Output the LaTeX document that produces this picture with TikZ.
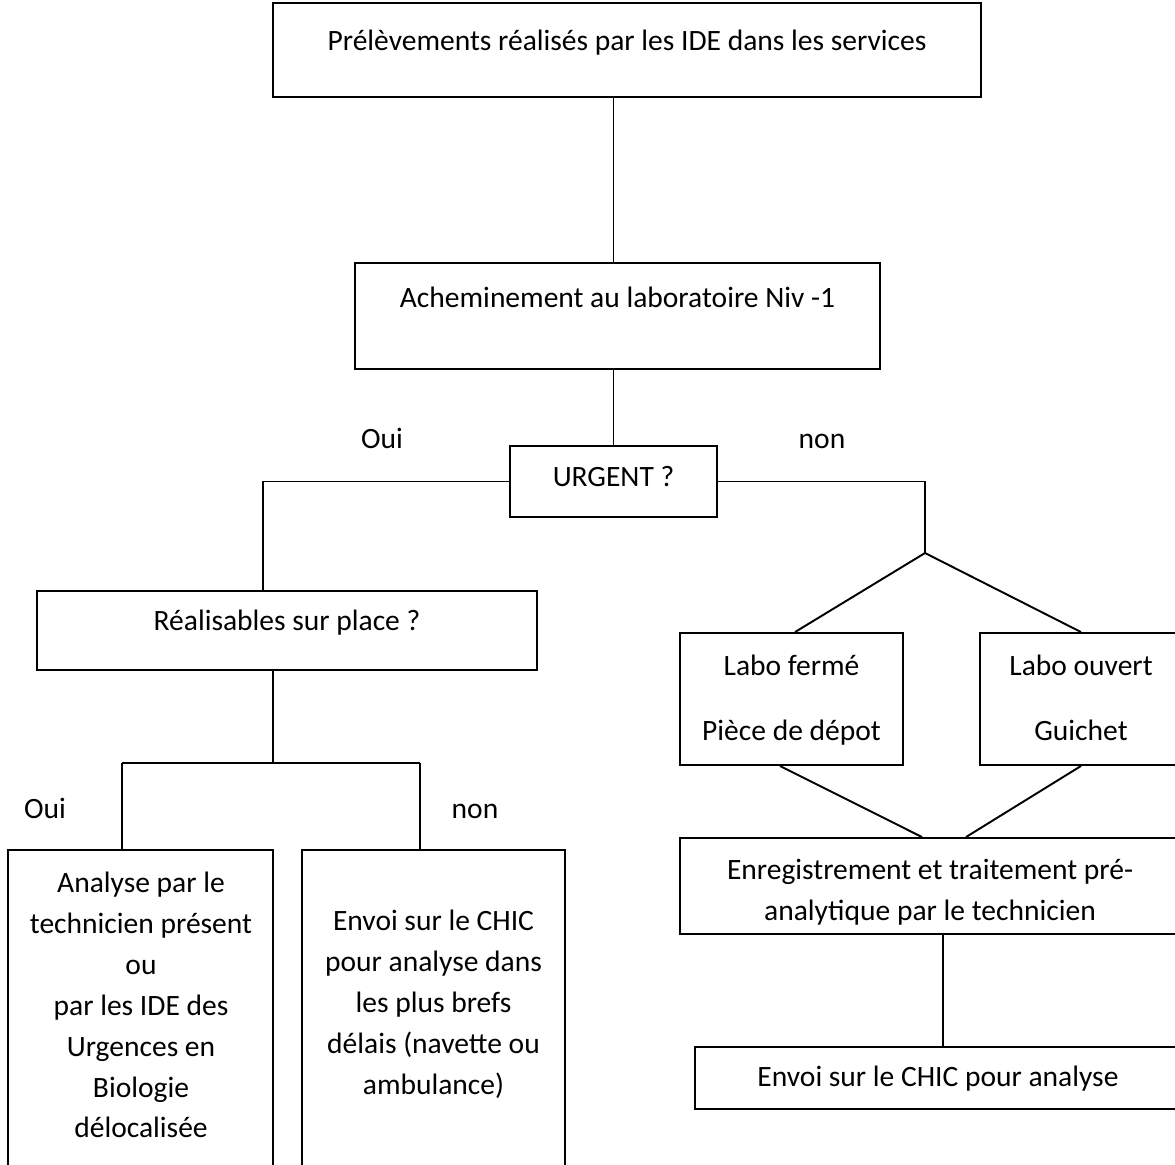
\documentclass[tikz,border=0pt]{standalone}
\usepackage{fontspec}
\setmainfont{Carlito}
\usepackage{tikz}
\usetikzlibrary{positioning, calc}

\begin{document}
\begin{tikzpicture}[x=0.02cm, y=-0.02cm, line width=1.1pt,
    box/.style={draw, rectangle, inner sep=0pt},
    txt/.style={font=\fontsize{16.8}{23.3}\selectfont, align=center, inner sep=0pt},
    oneline/.style={txt, text height=0.7em, text depth=0.2em}]
    % page frame, the picture is cut at right and bottom
    \useasboundingbox (0,0) rectangle (1175,1164);
    \clip (0,0) rectangle (1175,1164);

    % Boxes
    \node[box, minimum width=14.16cm, minimum height=1.88cm] (prelev) at (627,50) {};
    \node[box, minimum width=10.5cm, minimum height=2.12cm] (achem) at (617.5,316) {};
    \node[box, minimum width=4.14cm, minimum height=1.42cm] (urgent) at (613.5,481.5) {};
    \node[box, minimum width=10cm, minimum height=1.58cm] (realis) at (287,630.5) {};
    \node[box, minimum width=5.3cm, minimum height=7cm] (analyse) at (140.5,1025) {};
    \node[box, minimum width=5.26cm, minimum height=7cm] (navette) at (433.5,1025) {};
    \node[box, minimum width=4.46cm, minimum height=2.64cm] (ferme) at (791.5,699) {};
    \node[box, minimum width=4.04cm, minimum height=2.64cm] (ouvert) at (1081,699) {};
    \node[box, minimum width=10cm, minimum height=1.92cm] (enreg) at (930,886) {};
    \node[box, minimum width=9.72cm, minimum height=1.24cm] (chic) at (938,1078) {};

    % Texts
    \node[oneline] (t-prelev) at (627,46) {Prélèvements réalisés par les IDE dans les services};
    \node[oneline] (t-achem) at (617.5,303) {Acheminement au laboratoire Niv -1};
    \node[oneline] (t-urgent) at (613.5,482) {URGENT ?};
    \node[oneline] (oui1) at (382,444) {Oui};
    \node[oneline] (non1) at (822,444) {non};
    \node[oneline] (t-realis) at (287,626) {Réalisables sur place ?};
    \node[oneline] (oui2) at (45,814) {Oui};
    \node[oneline] (non2) at (475,814) {non};
    \node[txt] (t-analyse) at (141,1005) {Analyse par le\\technicien présent\\ou\\par les IDE des\\Urgences en\\Biologie\\délocalisée};
    \node[txt] (t-navette) at (433.5,1004) {Envoi sur le CHIC\\pour analyse dans\\les plus brefs\\délais (navette ou\\ambulance)};
    \node[txt] (t-ferme) at (791.5,700) {\strut Labo fermé\\[14pt]\strut Pièce de dépot};
    \node[txt] (t-ouvert) at (1081,700) {\strut Labo ouvert\\[14pt]\strut Guichet};
    \node[txt] (t-enreg) at (930,892) {Enregistrement et traitement pré-\\analytique par le technicien};
    \node[oneline] (t-chic) at (938,1082) {Envoi sur le CHIC pour analyse};

    % Connectors
    \coordinate (fork) at (925,553);
    \coordinate (jl) at (122,763);
    \coordinate (jr) at (420,763);
    \draw (urgent.north |- prelev.south) -- (urgent.north |- achem.north);
    \draw (urgent.north |- achem.south) -- (urgent.north);
    \draw (urgent.west) -| ([xshift=-0.48cm]realis.north);
    \draw (urgent.east) -| (fork);
    \draw (fork) -- ([xshift=0.07cm]ferme.north);
    \draw (fork) -- (ouvert.north);
    \draw ([xshift=-0.28cm]realis.south) -- ([xshift=-0.28cm]realis.south |- jl);
    \draw (jl) -- (jr);
    \draw (jl) -- (jl |- analyse.north);
    \draw (jr) -- (jr |- navette.north);
    \draw ([xshift=-0.23cm]ferme.south) -- ([xshift=-0.16cm]enreg.north);
    \draw (ouvert.south) -- ([xshift=0.72cm]enreg.north);
    \draw ([xshift=0.26cm]enreg.south) -- ([xshift=0.1cm]chic.north);
\end{tikzpicture}
\end{document}
